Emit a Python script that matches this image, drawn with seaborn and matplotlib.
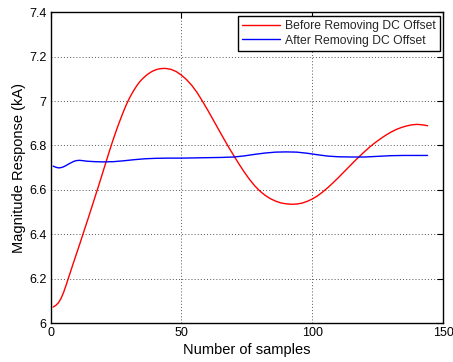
import numpy as np
import pandas as pd
import matplotlib
matplotlib.use("Agg")
import matplotlib.pyplot as plt
import seaborn as sns

# Data
red_x = [1, 2, 3, 4, 5, 6, 7, 8, 9, 10, 11, 12, 13, 14, 15, 16, 17, 18, 19, 20,
         21, 22, 23, 24, 25, 26, 27, 28, 29, 30, 31, 32, 33, 34, 35, 36, 37, 38,
         39, 40, 41, 42, 43, 44, 46, 48, 50, 52, 54, 56, 58, 60, 62, 64, 66, 68,
         70, 72, 74, 76, 78, 80, 82, 84, 86, 88, 90, 92, 94, 96, 98, 100, 102,
         104, 106, 108, 110, 112, 114, 116, 118, 120, 122, 124, 126, 128, 130,
         132, 134, 136, 138, 140, 142, 144]
red_y = [6.072, 6.079, 6.091, 6.110, 6.138, 6.172, 6.208, 6.244, 6.280, 6.315,
         6.350, 6.386, 6.422, 6.458, 6.494, 6.531, 6.568, 6.605, 6.642, 6.680,
         6.718, 6.756, 6.793, 6.829, 6.863, 6.896, 6.927, 6.957, 6.985, 7.010,
         7.032, 7.052, 7.070, 7.086, 7.099, 7.110, 7.120, 7.128, 7.135, 7.140,
         7.144, 7.146, 7.147, 7.147, 7.143, 7.133, 7.117, 7.096, 7.070, 7.038,
         7.000, 6.960, 6.918, 6.876, 6.834, 6.793, 6.754, 6.716, 6.680, 6.647,
         6.618, 6.594, 6.575, 6.560, 6.549, 6.541, 6.537, 6.535, 6.536, 6.540,
         6.548, 6.559, 6.573, 6.591, 6.611, 6.633, 6.656, 6.680, 6.704, 6.728,
         6.751, 6.773, 6.794, 6.813, 6.830, 6.846, 6.860, 6.872, 6.881, 6.888,
         6.893, 6.895, 6.893, 6.889]

blue_x = [1, 2, 3, 4, 5, 6, 7, 8, 9, 10, 11, 12, 14, 17, 20, 24, 28, 32, 36, 40,
          45, 50, 55, 60, 65, 70, 74, 78, 82, 86, 90, 94, 98, 102, 106, 110, 115,
          120, 125, 130, 135, 140, 144]
blue_y = [6.707, 6.702, 6.699, 6.700, 6.704, 6.710, 6.717, 6.723, 6.729, 6.732,
          6.733, 6.732, 6.729, 6.727, 6.726, 6.727, 6.731, 6.736, 6.740, 6.742,
          6.743, 6.743, 6.744, 6.745, 6.746, 6.748, 6.753, 6.760, 6.766, 6.770,
          6.771, 6.770, 6.765, 6.758, 6.752, 6.749, 6.748, 6.748, 6.751, 6.754,
          6.755, 6.755, 6.755]

series_names = ["Before Removing DC Offset", "After Removing DC Offset"]
x_ticks = [0, 50, 100, 150]
y_ticks = [6, 6.2, 6.4, 6.6, 6.8, 7, 7.2, 7.4]
y_tick_labels = ["6", "6.2", "6.4", "6.6", "6.8", "7", "7.2", "7.4"]

df = pd.concat([
    pd.DataFrame({"x": red_x, "y": red_y, "series": series_names[0]}),
    pd.DataFrame({"x": blue_x, "y": blue_y, "series": series_names[1]}),
], ignore_index=True)

sns.set_theme(style="white")
plt.rcParams["font.family"] = ["Liberation Sans", "DejaVu Sans"]

fig = plt.figure(figsize=(4.53, 3.62), dpi=100)
ax = fig.add_axes([0.1115, 0.1077, 0.8671, 0.8583])

sns.lineplot(data=df, x="x", y="y", hue="series", hue_order=series_names,
             palette=["#ff0000", "#0000ff"], linewidth=1.0, ax=ax, sort=True,
             estimator=None)

ax.set_xlim(0, 150)
ax.set_ylim(6, 7.4)
ax.set_xticks(x_ticks)
ax.set_xticklabels([str(t) for t in x_ticks])
ax.set_yticks(y_ticks)
ax.set_yticklabels(y_tick_labels)
ax.tick_params(direction="in", length=4, width=0.8, top=True, right=True,
               labelsize=9, colors="black", pad=3)
ax.grid(True, linestyle=(0, (1, 2.2)), color="#555555", linewidth=0.7)
for s in ax.spines.values():
    s.set_color("black")
    s.set_linewidth(1.0)
    s.set_visible(True)

ax.set_xlabel("Number of samples", fontsize=10.5, color="black", labelpad=2.5)
ax.set_ylabel("Magnitude Response (kA)", fontsize=10.5, color="black", labelpad=2)

leg = ax.legend(loc="upper right", fontsize=8.7, frameon=True, fancybox=False,
                edgecolor="black", framealpha=1, borderaxespad=0.3,
                handlelength=3.2, handletextpad=0.35, borderpad=0.35,
                labelspacing=0.2)
leg.get_frame().set_linewidth(1.0)

fig.savefig("out.png", dpi=100)
